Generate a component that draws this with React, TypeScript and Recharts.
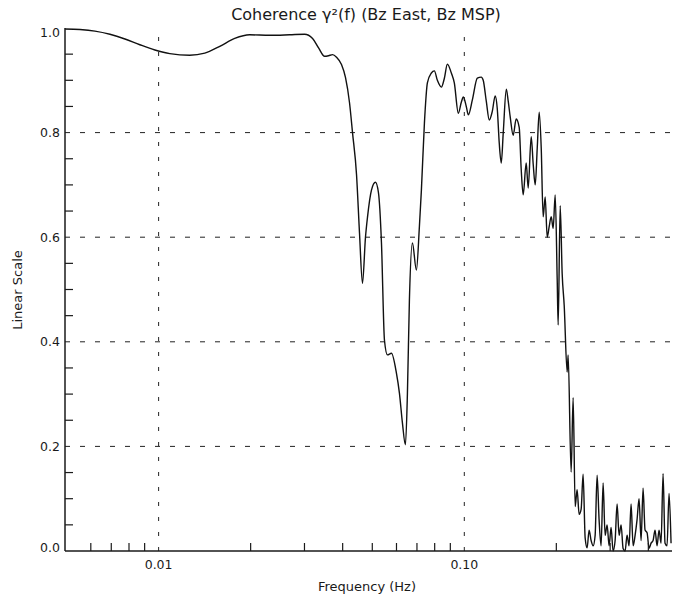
import React from 'react';
import { LineChart, Line, XAxis, YAxis, ReferenceLine } from 'recharts';

const freqHz = [
  0.00494, 0.00553, 0.00619, 0.00693, 0.00776, 0.00868, 0.00972, 0.01088, 0.01264, 0.01416,
  0.01585, 0.01774, 0.01985, 0.02308, 0.02682, 0.03002, 0.03189, 0.03336, 0.0349, 0.03596,
  0.03706, 0.03819, 0.03965, 0.04087, 0.04212, 0.04308, 0.0444, 0.04541, 0.04644, 0.0475,
  0.04822, 0.04969, 0.05121, 0.05238, 0.05357, 0.0548, 0.05605, 0.05776, 0.05997, 0.06134,
  0.06274, 0.06417, 0.06514, 0.06613, 0.06764, 0.0697, 0.07129, 0.07238, 0.07404, 0.07572,
  0.07803, 0.07981, 0.08164, 0.08414, 0.08606, 0.08802, 0.0907, 0.09275, 0.09559, 0.09777,
  0.09925, 0.1015, 0.1031, 0.1062, 0.1103, 0.1136, 0.1153, 0.118, 0.1207, 0.1234,
  0.1262, 0.1282, 0.1301, 0.1321, 0.1341, 0.1372, 0.1392, 0.1413, 0.1445, 0.1478,
  0.1512, 0.1535, 0.1558, 0.1594, 0.1618, 0.1655, 0.168, 0.1706, 0.1732, 0.1758,
  0.1785, 0.1811, 0.1839, 0.1867, 0.1895, 0.1924, 0.1953, 0.1983, 0.2013, 0.2028,
  0.2059, 0.209, 0.2122, 0.217, 0.2186, 0.2236, 0.227, 0.2305, 0.2339, 0.2375,
  0.2411, 0.2447, 0.2485, 0.2522, 0.256, 0.2599, 0.2639, 0.2679, 0.2719, 0.276,
  0.2802, 0.2845, 0.2888, 0.2932, 0.2976, 0.3021, 0.3067, 0.3114, 0.3161, 0.3209,
  0.3258, 0.3307, 0.3357, 0.3408, 0.346, 0.3512, 0.3566, 0.362, 0.3674, 0.373,
  0.3787, 0.3844, 0.3902, 0.3962, 0.4022, 0.4083, 0.4145, 0.4207, 0.4271, 0.4336,
  0.4402, 0.4469, 0.4536, 0.4605, 0.4675, 0.4746,
];

const coherence = [
  0.998, 0.997, 0.994, 0.988, 0.979, 0.968, 0.958, 0.951, 0.948, 0.952,
  0.965, 0.98, 0.987, 0.986, 0.987, 0.988, 0.98, 0.962, 0.946, 0.947,
  0.949, 0.944, 0.93, 0.905, 0.857, 0.8, 0.72, 0.608, 0.512, 0.6,
  0.638, 0.69, 0.705, 0.685, 0.59, 0.403, 0.375, 0.378, 0.34, 0.302,
  0.245, 0.203, 0.3, 0.48, 0.589, 0.537, 0.62, 0.69, 0.818, 0.895,
  0.914, 0.918, 0.9, 0.887, 0.904, 0.931, 0.914, 0.895, 0.837, 0.858,
  0.868, 0.85, 0.834, 0.862, 0.904, 0.906, 0.9, 0.86, 0.824, 0.84,
  0.87, 0.845, 0.78, 0.742, 0.8, 0.883, 0.86, 0.83, 0.795, 0.826,
  0.81, 0.73, 0.681, 0.742, 0.694, 0.792, 0.74, 0.7, 0.77, 0.839,
  0.77, 0.639, 0.677, 0.6, 0.62, 0.639, 0.617, 0.681, 0.52, 0.432,
  0.66, 0.53, 0.47, 0.342, 0.375, 0.151, 0.293, 0.085, 0.117, 0.07,
  0.08, 0.147, 0.025, 0.006, 0.04, 0.02, 0.01, 0.03, 0.145, 0.06,
  0.01, 0.13, 0.03, 0.05, 0.01, 0.045, 0.0, 0.02, 0.09, 0.03,
  0.05, 0.005, 0.0, 0.03, 0.01, 0.09, 0.01, 0.03, 0.06, 0.1,
  0.02, 0.12, 0.04, 0.035, 0.005, 0.015, 0.02, 0.04, 0.01, 0.04,
  0.015, 0.148, 0.015, 0.01, 0.11, 0.015,
];

const xDomain = [0.00494, 0.478];
const xMajorTicks = [0.01, 0.1];
const xMajorLabels = ['0.01', '0.10'];
const xMinorTicks = [0.006, 0.007, 0.008, 0.009, 0.02, 0.03, 0.04, 0.05, 0.06, 0.07, 0.08, 0.09, 0.2, 0.3, 0.4];

const yMajorTicks = [0, 0.2, 0.4, 0.6, 0.8, 1.0];
const yMajorLabels = ['0.0', '0.2', '0.4', '0.6', '0.8', '1.0'];
const yMinorTicks = [0.05, 0.1, 0.15, 0.25, 0.3, 0.35, 0.45, 0.5, 0.55, 0.65, 0.7, 0.75, 0.85, 0.9, 0.95];
const yGridLines = [0.2, 0.4, 0.6, 0.8];

const chartTitle = 'Coherence \u03b3\u00b2(f) (Bz East, Bz MSP)';
const xTitle = 'Frequency (Hz)';
const yTitle = 'Linear Scale';

const data = freqHz.map((f, i) => ({ f, c: coherence[i] }));

const FONT = "'DejaVu Sans', sans-serif";
const INK = '#1a1a1a';
const TICK = 8;

const BottomTick = (props: any) => {
  const { x, y, payload } = props;
  const i = xMajorTicks.indexOf(payload.value);
  if (i >= 0) {
    return (
      <text x={x} y={y + 18} textAnchor="middle" fontFamily={FONT} fontSize={12.5} fill={INK}>
        {xMajorLabels[i]}
      </text>
    );
  }
  return <line x1={x} x2={x} y1={y} y2={y - TICK} stroke={INK} strokeWidth={1.2} />;
};

const TopTick = (props: any) => {
  const { x, y, payload } = props;
  if (xMajorTicks.indexOf(payload.value) >= 0) return <g />;
  return <line x1={x} x2={x} y1={y} y2={y + TICK} stroke={INK} strokeWidth={1.2} />;
};

const LeftTick = (props: any) => {
  const { x, y, payload } = props;
  const i = yMajorTicks.indexOf(payload.value);
  if (i >= 0) {
    let dy = 4.5;
    if (payload.value === 1) dy = 8.5;
    if (payload.value === 0) dy = 1;
    return (
      <text x={x - 5} y={y + dy} textAnchor="end" fontFamily={FONT} fontSize={12.5} fill={INK}>
        {yMajorLabels[i]}
      </text>
    );
  }
  return <line x1={x} x2={x + TICK} y1={y} y2={y} stroke={INK} strokeWidth={1.2} />;
};

const RightTick = (props: any) => {
  const { x, y, payload } = props;
  if (yMajorTicks.indexOf(payload.value) >= 0) return <g />;
  return <line x1={x} x2={x - TICK} y1={y} y2={y} stroke={INK} strokeWidth={1.2} />;
};

const xAllTicks = [...xMinorTicks, ...xMajorTicks].sort((a, b) => a - b);
const yAllTicks = [...yMinorTicks, ...yMajorTicks].sort((a, b) => a - b);

export default function App() {
  return (
    <div style={{ position: 'absolute', left: 0, top: 0, width: 673, height: 600, background: '#fff' }}>
      <LineChart width={673} height={600} data={data} margin={{ top: 28, right: 1, bottom: 0, left: 0 }}>
        <XAxis
          dataKey="f"
          type="number"
          scale="log"
          domain={xDomain}
          allowDataOverflow
          ticks={xAllTicks}
          interval={0}
          tick={<BottomTick />}
          tickLine={false}
          tickSize={0}
          tickMargin={0}
          height={49}
          axisLine={{ stroke: INK, strokeWidth: 1.5 }}
        />
        <XAxis
          xAxisId="top"
          orientation="top"
          dataKey="f"
          type="number"
          scale="log"
          domain={xDomain}
          allowDataOverflow
          ticks={xAllTicks}
          interval={0}
          tick={<TopTick />}
          tickLine={false}
          tickSize={0}
          tickMargin={0}
          height={0}
          axisLine={{ stroke: INK, strokeWidth: 1.5 }}
        />
        <YAxis
          type="number"
          domain={[0, 1]}
          ticks={yAllTicks}
          interval={0}
          tick={<LeftTick />}
          tickLine={false}
          tickSize={0}
          tickMargin={0}
          width={65}
          axisLine={{ stroke: INK, strokeWidth: 1.5 }}
        />
        <YAxis
          yAxisId="right"
          orientation="right"
          type="number"
          domain={[0, 1]}
          ticks={yAllTicks}
          interval={0}
          tick={<RightTick />}
          tickLine={false}
          tickSize={0}
          tickMargin={0}
          width={0}
          axisLine={{ stroke: INK, strokeWidth: 1.5 }}
        />
        {yGridLines.map((v) => (
          <ReferenceLine key={'y' + v} y={v} stroke="#222" strokeWidth={1} strokeDasharray="5 10" />
        ))}
        {xMajorTicks.map((v) => (
          <ReferenceLine key={'x' + v} x={v} stroke="#222" strokeWidth={1} strokeDasharray="4 11" />
        ))}
        <Line
          type="monotone"
          dataKey="c"
          stroke="#111"
          strokeWidth={1.4}
          dot={false}
          isAnimationActive={false}
        />
      </LineChart>
      <svg width={673} height={600} style={{ position: 'absolute', left: 0, top: 0, pointerEvents: 'none' }}>
        <text x={366} y={20} textAnchor="middle" fontFamily={FONT} fontSize={16} fill={INK}>
          {chartTitle}
        </text>
        <text x={367} y={591} textAnchor="middle" fontFamily={FONT} fontSize={13} fill={INK}>
          {xTitle}
        </text>
        <text
          x={22}
          y={290}
          textAnchor="middle"
          fontFamily={FONT}
          fontSize={13}
          fill={INK}
          transform="rotate(-90 22 290)"
        >
          {yTitle}
        </text>
      </svg>
    </div>
  );
}
